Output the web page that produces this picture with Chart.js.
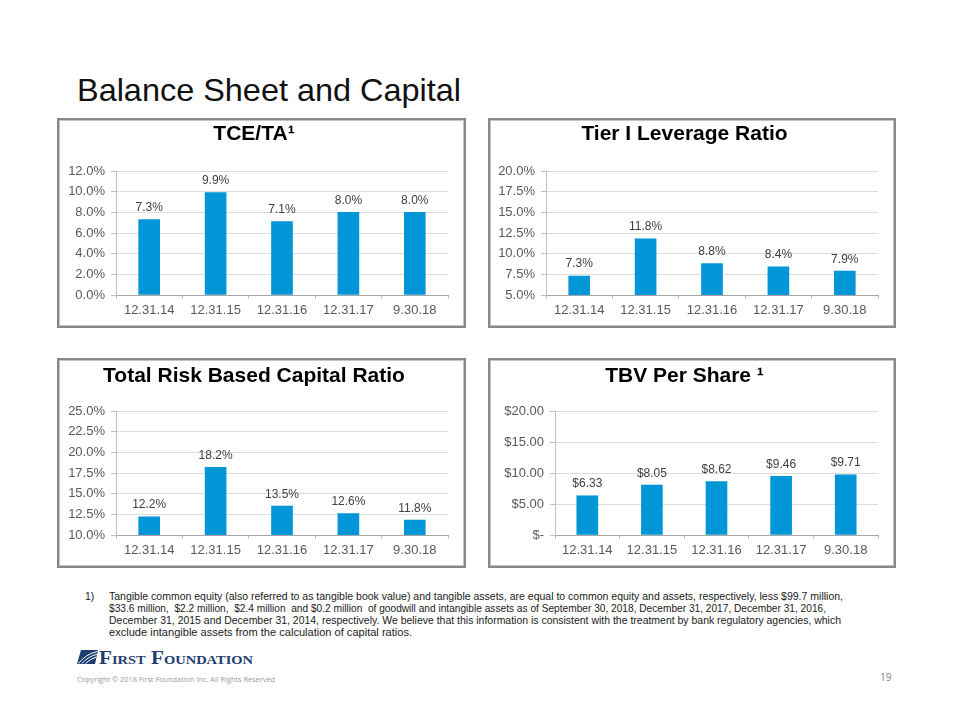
<!DOCTYPE html>
<html>
<head>
<meta charset="utf-8">
<script src="https://cdn.jsdelivr.net/npm/chart.js@4.4.0/dist/chart.umd.min.js"></script>
<style>
  html, body { margin: 0; padding: 0; background: #fff; }
  body { width: 960px; height: 720px; position: relative; overflow: hidden; font-family: "Liberation Sans", Arial, sans-serif; }
  .abs { position: absolute; white-space: nowrap; }
  .panel { position: absolute; box-sizing: border-box; border: 2px solid #878787; box-shadow: inset 0 0 0 1px #c4c4c4; }
  canvas { position: absolute; }
  #title { left: 77px; top: 74px; font-size: 32px; line-height: 32px; color: #111; }
  .fn { font-size: 10.5px; line-height: 12px; color: #1a1a1a; }
  #logo { left: 99px; top: 649px; font-family: "Liberation Serif", "DejaVu Serif", serif; font-weight: bold; font-variant: small-caps; font-size: 19px; line-height: 18px; color: #1f3d6e; }
  #copy { left: 77px; top: 674px; font-family: "Open Sans", sans-serif; font-size: 7.5px; line-height: 10px; color: #9a9a9a; }
  #page { left: 880px; top: 671px; font-family: "Open Sans", sans-serif; font-size: 10px; line-height: 12px; color: #808080; }
</style>
</head>
<body>
<div id="title" class="abs" data-w="384">Balance Sheet and Capital</div>

<div class="panel" style="left:57px;top:118px;width:409px;height:210px;"></div>
<div class="panel" style="left:488px;top:118px;width:408px;height:210px;"></div>
<div class="panel" style="left:57px;top:358px;width:409px;height:210px;"></div>
<div class="panel" style="left:488px;top:358px;width:408px;height:210px;"></div>

<canvas id="c1" width="403" height="203" style="left:60px;top:121px;"></canvas>
<canvas id="c2" width="402" height="203" style="left:491px;top:121px;"></canvas>
<canvas id="c3" width="403" height="203" style="left:60px;top:361px;"></canvas>
<canvas id="c4" width="402" height="203" style="left:491px;top:361px;"></canvas>

<div class="abs fn" style="left:85px;top:590px;">1)</div>
<div class="abs fn" data-w="734" style="left:109px;top:590px;">Tangible common equity (also referred to as tangible book value) and tangible assets, are equal to common equity and assets, respectively, less $99.7 million,</div>
<div class="abs fn" data-w="717" style="left:109px;top:602px;">$33.6 million,&nbsp; $2.2 million,&nbsp; $2.4 million&nbsp; and $0.2 million&nbsp; of goodwill and intangible assets as of September 30, 2018, December 31, 2017, December 31, 2016,</div>
<div class="abs fn" data-w="732" style="left:109px;top:614px;">December 31, 2015 and December 31, 2014, respectively. We believe that this information is consistent with the treatment by bank regulatory agencies, which</div>
<div class="abs fn" data-w="303" style="left:109px;top:626px;">exclude intangible assets from the calculation of capital ratios.</div>

<svg class="abs" style="left:77px;top:650px;" width="21" height="14" viewBox="0 0 21 14">
  <path d="M4 0 H21 L18 14 H0 Z" fill="#1f3d6e"/>
  <path d="M1.5 13.5 Q8 4.5 20.5 1.3" stroke="#fff" stroke-width="1" fill="none"/>
  <path d="M5 13.5 Q11 6.5 20 4.2" stroke="#fff" stroke-width="1" fill="none"/>
  <path d="M8.5 13.5 Q13.5 8.8 19.3 7" stroke="#fff" stroke-width="1" fill="none"/>
</svg>
<div id="logo" class="abs" data-w="154">First Foundation</div>
<div id="copy" class="abs" data-w="198">Copyright © 2018 First Foundation Inc. All Rights Reserved</div>
<div id="page" class="abs">19</div>

<script>
// ---- Data ----
const categories = ['12.31.14', '12.31.15', '12.31.16', '12.31.17', '9.30.18'];

const tceTaValues = [7.3, 9.9, 7.1, 8.0, 8.0];
const tceTaTicks = { min: 0, max: 12, step: 2 };

const tier1Values = [7.3, 11.8, 8.8, 8.4, 7.9];
const tier1Ticks = { min: 5, max: 20, step: 2.5 };

const totalRiskValues = [12.2, 18.2, 13.5, 12.6, 11.8];
const totalRiskTicks = { min: 10, max: 25, step: 2.5 };

const tbvValues = [6.33, 8.05, 8.62, 9.46, 9.71];
const tbvTicks = { min: 0, max: 20, step: 5 };

// ---- Helpers ----
Chart.defaults.font.family = '"Liberation Sans", Arial, sans-serif';
Chart.defaults.animation = false;

const pct = v => v.toFixed(1) + '%';
const dollarTick = v => v === 0 ? '$-' : '$' + v.toFixed(2);
const dollarLabel = v => '$' + v.toFixed(2);

const valueLabels = {
  id: 'valueLabels',
  afterDatasetsDraw(chart, args, opts) {
    const ctx = chart.ctx;
    const meta = chart.getDatasetMeta(0);
    const data = chart.data.datasets[0].data;
    ctx.save();
    ctx.font = '12px "Liberation Sans", Arial, sans-serif';
    ctx.fillStyle = '#404040';
    ctx.textAlign = 'center';
    ctx.textBaseline = 'alphabetic';
    meta.data.forEach((bar, i) => {
      ctx.fillText(opts.format(data[i]), bar.x, bar.y - 8.5);
    });
    ctx.restore();
  }
};

function makeChart(id, title, titleTop, values, ticks, tickFmt, labelFmt, yWidth, padRight) {
  const lineH = 25;
  new Chart(document.getElementById(id), {
    type: 'bar',
    data: {
      labels: categories,
      datasets: [{
        data: values,
        backgroundColor: '#0096D8',
        barThickness: 21
      }]
    },
    plugins: [valueLabels],
    options: {
      responsive: false,
      devicePixelRatio: 1,
      layout: { padding: { left: 0, right: padRight, top: 0, bottom: 0 } },
      plugins: {
        legend: { display: false },
        tooltip: { enabled: false },
        title: {
          display: true,
          text: title,
          color: '#000',
          font: { size: 21, weight: 'bold', lineHeight: lineH / 21 },
          padding: { top: titleTop, bottom: 50 - titleTop - lineH }
        },
        valueLabels: { format: labelFmt }
      },
      scales: {
        x: {
          afterFit(s) { s.height = 29; },
          grid: { display: true, drawOnChartArea: false, offset: true, tickLength: 4, color: '#bfbfbf' },
          border: { color: '#a6a6a6' },
          ticks: { color: '#595959', font: { size: 13 }, padding: 4, maxRotation: 0, autoSkip: false }
        },
        y: {
          min: ticks.min,
          max: ticks.max,
          afterFit(s) { s.width = yWidth; },
          grid: { color: '#dcdcdc', tickLength: 5, tickColor: '#bfbfbf' },
          border: { color: '#bfbfbf' },
          ticks: { stepSize: ticks.step, color: '#595959', font: { size: 13 }, padding: 6, callback: tickFmt }
        }
      }
    }
  });
}

makeChart('c1', 'TCE/TA\u00B9', 0.5, tceTaValues, tceTaTicks, pct, pct, 56, 15);
makeChart('c2', 'Tier I Leverage Ratio', 0.5, tier1Values, tier1Ticks, pct, pct, 55, 15);
makeChart('c3', 'Total Risk Based Capital Ratio', 3, totalRiskValues, totalRiskTicks, pct, pct, 56, 15);
makeChart('c4', 'TBV Per Share \u00B9', 2.5, tbvValues, tbvTicks, dollarTick, dollarLabel, 64, 15);

// fit text widths
document.querySelectorAll('[data-w]').forEach(el => {
  const w = el.getBoundingClientRect().width;
  el.style.transformOrigin = 'left center';
  el.style.transform = 'scaleX(' + (+el.dataset.w / w) + ')';
});
</script>
</body>
</html>
